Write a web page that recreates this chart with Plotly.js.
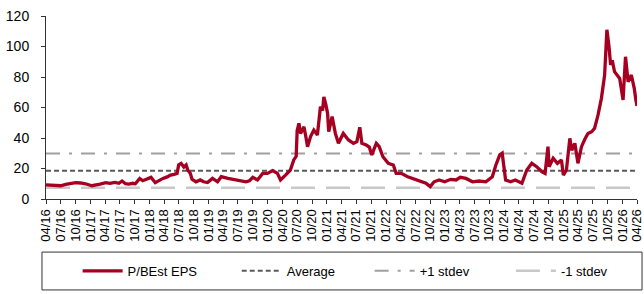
<!DOCTYPE html>
<html>
<head>
<meta charset="utf-8">
<script src="https://cdn.plot.ly/plotly-3.0.1.min.js"></script>
<style>html,body{margin:0;padding:0;background:#fff;}#chart{width:644px;height:294px;}</style>
</head>
<body>
<div id="chart"></div>
<script>
// ---- data ----
const dates = [
"2016-04-01","2016-05-01","2016-06-01","2016-07-01","2016-08-01","2016-09-01","2016-10-01","2016-11-01","2016-12-01",
"2017-01-10","2017-02-01","2017-03-01","2017-04-05","2017-05-01","2017-06-01","2017-06-25","2017-07-15","2017-08-05","2017-08-25","2017-09-20","2017-10-05","2017-11-01","2017-11-20","2017-12-20",
"2018-01-10","2018-02-05","2018-03-01","2018-03-25","2018-04-20","2018-05-10","2018-06-01","2018-06-20","2018-06-30","2018-07-15","2018-08-01","2018-08-15","2018-08-25","2018-09-10","2018-09-20","2018-10-15","2018-11-10","2018-12-01","2018-12-25",
"2019-01-25","2019-02-25","2019-03-20","2019-04-30","2019-05-25","2019-06-20","2019-07-20","2019-08-20","2019-09-10","2019-10-01","2019-10-30","2019-12-01","2019-12-30",
"2020-02-01","2020-03-01","2020-03-20","2020-04-20","2020-05-20","2020-06-10","2020-06-25","2020-07-01","2020-07-12","2020-07-22","2020-08-12","2020-08-25","2020-09-03","2020-09-22","2020-10-12","2020-11-03","2020-11-22","2020-12-05","2020-12-13","2020-12-25",
"2021-01-05","2021-01-12","2021-02-02","2021-02-22","2021-03-13","2021-04-12","2021-05-14","2021-06-14","2021-07-05","2021-07-23","2021-08-05","2021-09-01","2021-09-20","2021-10-05","2021-11-02","2021-11-20","2021-12-13",
"2022-01-15","2022-02-15","2022-03-05","2022-04-05","2022-05-15","2022-06-25","2022-08-05","2022-09-05","2022-10-01","2022-10-25","2022-11-25","2022-12-30",
"2023-02-05","2023-03-10","2023-04-05","2023-05-10","2023-06-20","2023-07-30","2023-09-10","2023-10-20","2023-11-10","2023-12-05","2023-12-20","2023-12-31",
"2024-01-10","2024-02-10","2024-03-10","2024-04-20","2024-05-20","2024-06-20","2024-07-20","2024-08-20","2024-09-10","2024-09-28","2024-10-05","2024-10-30","2024-11-25","2024-12-20",
"2025-01-01","2025-01-20","2025-02-10","2025-02-22","2025-03-13","2025-04-01","2025-04-23","2025-05-15","2025-06-02","2025-06-25","2025-07-13","2025-08-03","2025-08-24","2025-09-13","2025-09-27","2025-10-10","2025-10-20","2025-10-30","2025-11-13","2025-12-15",
"2026-01-05","2026-01-20","2026-02-05","2026-02-25","2026-03-15","2026-03-25","2026-04-01"
];
const pbe = [
9.2,8.9,8.6,8.7,9.6,10.4,10.7,10.5,10.0,
8.7,9.0,9.8,10.7,10.3,10.9,10.3,11.8,10.0,9.8,10.3,10.0,13.5,12.0,13.0,
14.2,10.7,12.3,13.5,14.5,15.7,16.2,16.8,22.5,23.4,21.0,22.3,19.0,16.8,13.0,11.3,12.5,11.3,10.8,
13.5,11.3,14.6,13.5,13.0,12.5,11.8,11.3,12.0,14.2,12.5,16.8,16.8,
18.6,16.8,12.5,15.7,19.0,25.6,28.0,45.0,49.6,43.0,47.4,40.0,34.3,40.9,45.2,42.0,60.5,58.0,67.0,62.0,
56.2,44.1,54.0,43.0,36.5,43.0,38.7,36.5,37.6,47.0,36.5,35.4,34.0,28.9,36.5,34.3,27.7,
23.4,22.3,16.8,16.8,14.6,12.9,11.3,10.3,8.1,11.3,12.5,11.3,
12.9,12.5,14.2,13.5,11.3,11.8,11.3,14.6,22.0,28.9,30.0,19.0,
12.5,11.3,12.5,10.3,19.0,23.4,21.2,18.0,16.8,34.3,21.2,26.7,23.4,25.6,
15.7,19.0,39.8,32.0,36.5,23.4,34.3,39.5,43.0,44.1,46.4,55.0,66.0,81.3,111.0,100.0,87.9,91.0,83.5,79.1,
64.9,93.3,76.9,81.3,72.6,64.9,61.0
];
const averageValue = 18.6;
const plusOneStdev = 29.8;
const minusOneStdev = 7.4;
const tickLabels = ["04/16","07/16","10/16","01/17","04/17","07/17","10/17","01/18","04/18","07/18","10/18",
"01/19","04/19","07/19","10/19","01/20","04/20","07/20","10/20","01/21","04/21","07/21","10/21",
"01/22","04/22","07/22","10/22","01/23","04/23","07/23","10/23","01/24","04/24","07/24","10/24",
"01/25","04/25","07/25","10/25","01/26","04/26"];
const seriesNames = ["P/BEst EPS","Average","+1 stdev","-1 stdev"];
// ----------------------------------------

const tickVals = tickLabels.map(t => "20" + t.slice(3) + "-" + t.slice(0,2) + "-01");
const xStart = tickVals[0], xEnd = tickVals[tickVals.length-1];
const font = "Arial, 'Liberation Sans', sans-serif";

const traces = [
  {x: [xStart, xEnd], y: [averageValue, averageValue], type: "scatter", mode: "lines", name: seriesNames[1],
   line: {color: "#5A5A5A", width: 2, dash: "5px,3px"}, legend: "legend2"},
  {x: [xStart, xEnd], y: [plusOneStdev, plusOneStdev], type: "scatter", mode: "lines", name: seriesNames[2],
   line: {color: "#A0A0A0", width: 2, dash: "14px,9px,3px,9px"}, legend: "legend3"},
  {x: [xStart, xEnd], y: [minusOneStdev, minusOneStdev], type: "scatter", mode: "lines", name: seriesNames[3],
   line: {color: "#C8C8C8", width: 2.5, dash: "24px,11px"}, legend: "legend4"},
  {x: dates, y: pbe, type: "scatter", mode: "lines", name: seriesNames[0],
   line: {color: "#A50021", width: 3.3}, legend: "legend"}
];

const legendBase = {orientation: "h", yanchor: "middle", y: -0.393, xanchor: "left",
  font: {family: font, size: 13, color: "#000"}, bgcolor: "rgba(0,0,0,0)", borderwidth: 0, itemwidth: 40};

const layout = {
  width: 644, height: 294,
  margin: {l: 46, r: 7, t: 16, b: 95},
  paper_bgcolor: "#fff", plot_bgcolor: "#fff",
  font: {family: font, size: 13, color: "#000"},
  showlegend: true,
  xaxis: {type: "date", range: [xStart, xEnd], tickmode: "array", tickvals: tickVals, ticktext: tickLabels,
    tickangle: -90, ticks: "outside", ticklen: 4, tickcolor: "#333", showline: true, linecolor: "#333", linewidth: 1,
    ticklabeloverflow: "allow",
    showgrid: false, zeroline: false, tickfont: {family: font, size: 13, color: "#000"}, fixedrange: true},
  yaxis: {range: [0, 120], dtick: 20, ticks: "outside", ticklen: 4, tickcolor: "#333", showline: true,
    linecolor: "#333", linewidth: 1, showgrid: false, zeroline: false, ticklabelstandoff: 9,
    tickfont: {family: font, size: 14, color: "#000"}, fixedrange: true},
  legend: Object.assign({}, legendBase, {x: 0.0535}),
  legend2: Object.assign({}, legendBase, {x: 0.3227}),
  legend3: Object.assign({}, legendBase, {x: 0.5476}),
  legend4: Object.assign({}, legendBase, {x: 0.7866}),
  shapes: [{type: "rect", xref: "paper", yref: "paper", x0: -0.0068, x1: 1.0085, y0: -0.497, y1: -0.29,
    line: {color: "#333", width: 1}, fillcolor: "rgba(0,0,0,0)", layer: "above"}]
};

Plotly.newPlot("chart", traces, layout, {staticPlot: true, displayModeBar: false});
</script>
</body>
</html>
